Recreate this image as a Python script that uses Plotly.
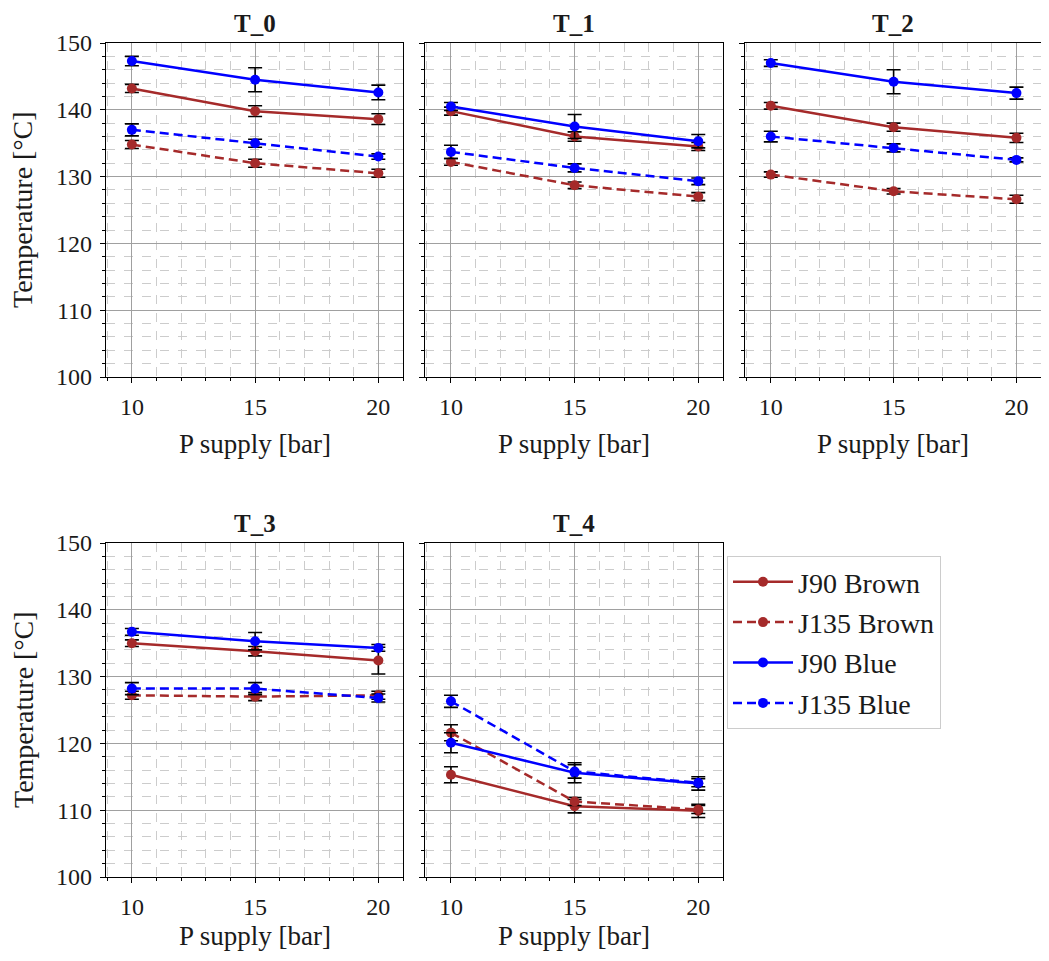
import plotly.graph_objects as go
from plotly.subplots import make_subplots

# P supply levels [bar]
p_supply = [10, 15, 20]
panels = ["T_0", "T_1", "T_2", "T_3", "T_4"]
series_names = ["J90 Brown", "J135 Brown", "J90 Blue", "J135 Blue"]

# mean temperatures [°C], one list per panel and series
j90_brown = [[143.2, 139.8, 138.6], [139.8, 136.0, 134.5], [140.6, 137.4, 135.8],
             [135.0, 133.8, 132.4], [115.3, 110.6, 109.9]]
j135_brown = [[134.8, 132.0, 130.5], [132.2, 128.7, 127.0], [130.3, 127.8, 126.6],
              [127.2, 127.0, 127.2], [121.6, 111.3, 110.1]]
j90_blue = [[147.3, 144.5, 142.6], [140.5, 137.5, 135.3], [147.0, 144.2, 142.5],
            [136.7, 135.3, 134.3], [120.1, 115.6, 114.0]]
j135_blue = [[137.0, 135.0, 133.0], [133.7, 131.3, 129.3], [136.0, 134.3, 132.5],
             [128.2, 128.2, 126.8], [126.3, 115.8, 114.1]]

# error bars (half width)
j90_brown_err = [[0.6, 0.8, 0.8], [0.6, 0.7, 0.6], [0.5, 0.6, 0.7], [0.5, 0.7, 2.0], [1.2, 1.0, 1.0]]
j135_brown_err = [[0.6, 0.6, 0.6], [0.5, 0.5, 0.6], [0.4, 0.4, 0.6], [0.6, 0.6, 0.6], [1.2, 0.6, 0.6]]
j90_blue_err = [[0.7, 1.8, 1.1], [0.6, 1.8, 1.0], [0.5, 1.8, 0.9], [0.5, 1.3, 0.5], [1.5, 1.5, 1.0]]
j135_blue_err = [[0.9, 0.6, 0.4], [1.0, 0.6, 0.5], [0.8, 0.6, 0.3], [0.9, 0.9, 0.6], [0.9, 1.0, 0.6]]

values = [j90_brown, j135_brown, j90_blue, j135_blue]
errors = [j90_brown_err, j135_brown_err, j90_blue_err, j135_blue_err]
colors = ["#a52a2a", "#a52a2a", "#0000ff", "#0000ff"]
dashes = ["solid", "9px,5px", "solid", "9px,5px"]

FONT = "Liberation Serif"
TXT = "#1a1a1a"

fig = make_subplots(rows=2, cols=3, specs=[[{}, {}, {}], [{}, {}, None]])

positions = [(1, 1), (1, 2), (1, 3), (2, 1), (2, 2)]
for k, (r, c) in enumerate(positions):
    for s in range(4):
        fig.add_trace(go.Scatter(
            x=p_supply, y=values[s][k],
            mode="lines+markers",
            name=series_names[s],
            showlegend=(k == 0),
            legendgroup=series_names[s],
            line=dict(color=colors[s], width=2.5, dash=dashes[s]),
            marker=dict(color=colors[s], size=10),
            error_y=dict(type="data", array=errors[s][k], color="black",
                         thickness=1.6, width=7),
        ), row=r, col=c)

# page has an 8px body margin -> work in page pixels, shift by OFF
OFF = 8
W, H = 1049 - 2 * OFF, 961 - 2 * OFF
ml, mr, mt, mb = 106 - OFF, 0, 43 - OFF, H - (877 - OFF)
pw, ph = W - ml - mr, H - mt - mb
col_px = [(106, 403), (425, 723), (745, 1041)]
row_px = [(43, 377), (543, 877)]
page_bottom = H + OFF


def px_x(p):
    return (p - OFF - ml) / pw


def px_y(p):
    return (H - mb - (p - OFF)) / ph


for k, (r, c) in enumerate(positions):
    n = "" if k == 0 else str(k + 1)
    x0, x1 = col_px[c - 1]
    top, bot = row_px[r - 1]
    fig.layout["xaxis" + n].domain = [px_x(x0), min(1, px_x(x1))]
    fig.layout["yaxis" + n].domain = [px_y(bot), px_y(top)]
    fig.layout["xaxis" + n].update(
        range=[8.95, 21.0], tickvals=p_supply, ticks="outside", ticklen=5,
        tickcolor="black", automargin=False, ticklabelstandoff=3,
        showline=True, linecolor="black", linewidth=1.2, mirror=True,
        showgrid=True, gridcolor="#a0a0a0", gridwidth=1, zeroline=False,
        minor=dict(dtick=1, tick0=0, ticks="outside", ticklen=3, tickcolor="black",
                   showgrid=True, gridcolor="#cccccc", griddash="dash", gridwidth=1),
        tickfont=dict(family=FONT, size=24, color=TXT),
    )
    fig.layout["yaxis" + n].update(
        range=[100, 150], dtick=10, ticks="outside", ticklen=5,
        tickcolor="black", automargin=False, ticklabelstandoff=3,
        showline=True, linecolor="black", linewidth=1.2, mirror=True,
        showgrid=True, gridcolor="#a0a0a0", gridwidth=1, zeroline=False,
        showticklabels=(c == 1),
        minor=dict(dtick=2, ticks="outside", ticklen=3, tickcolor="black",
                   showgrid=True, gridcolor="#cccccc", griddash="dash", gridwidth=1),
        tickfont=dict(family=FONT, size=24, color=TXT),
    )
    # panel title
    fig.add_annotation(
        text="<b>" + panels[k] + "</b>", x=px_x((x0 + x1) / 2), y=px_y(top - 35),
        xref="paper", yref="paper", xanchor="center", yanchor="top",
        showarrow=False, font=dict(family=FONT, size=25, color=TXT),
    )
    # x axis title
    fig.add_annotation(
        text="P supply [bar]", x=px_x((x0 + x1) / 2), y=px_y(min(bot + 84, page_bottom)),
        xref="paper", yref="paper", xanchor="center", yanchor="bottom",
        showarrow=False, font=dict(family=FONT, size=27, color=TXT),
    )
    if c == 1:
        fig.add_annotation(
            text="Temperature [°C]", x=px_x(23), y=px_y((top + bot) / 2),
            xref="paper", yref="paper", xanchor="center", yanchor="middle",
            textangle=-90, showarrow=False, font=dict(family=FONT, size=28, color=TXT),
        )

fig.update_layout(
    width=W, height=H,
    margin=dict(l=ml, r=mr, t=mt, b=mb),
    paper_bgcolor="white", plot_bgcolor="white",
    font=dict(family=FONT, size=20, color=TXT),
    legend=dict(x=px_x(727), y=px_y(556), xanchor="left", yanchor="top",
                bgcolor="white", bordercolor="#cccccc", borderwidth=1,
                font=dict(family=FONT, size=28, color=TXT),
                itemwidth=60, tracegroupgap=1),
)

fig.write_html("out.html")
